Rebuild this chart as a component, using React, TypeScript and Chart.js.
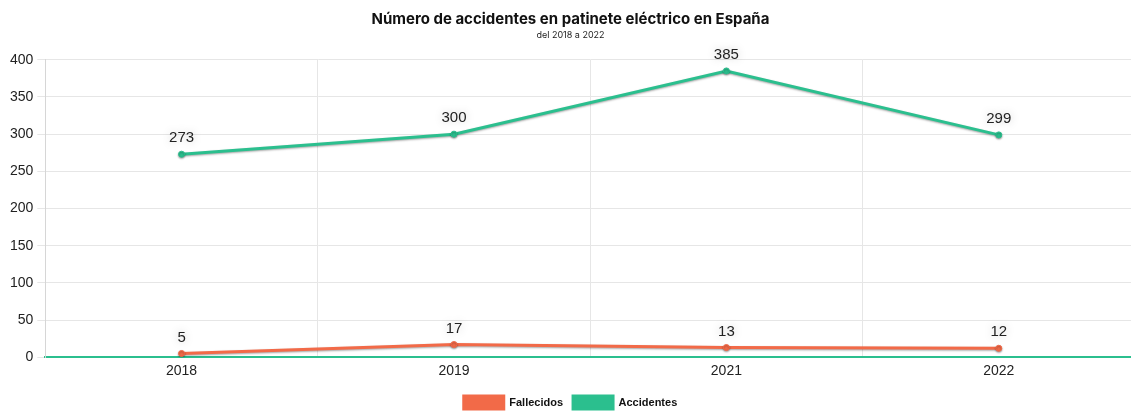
import React, { useEffect, useRef } from "react";
import { Chart, registerables } from "chart.js";

Chart.register(...registerables);

const categories = ["2018", "2019", "2021", "2022"];
const fallecidos = [5, 17, 13, 12];
const accidentes = [273, 300, 385, 299];
const titleText = "Número de accidentes en patinete eléctrico en España";
const subtitleText = "del 2018 a 2022";

const ORANGE = "#F26A48";
const GREEN = "#2BBF8E";

const shadowPlugin = {
  id: "lineShadow",
  beforeDatasetDraw(chart: any) {
    const ctx = chart.ctx;
    ctx.save();
    ctx.shadowColor = "rgba(0,0,0,0.35)";
    ctx.shadowBlur = 2;
    ctx.shadowOffsetY = 1;
  },
  afterDatasetDraw(chart: any) {
    chart.ctx.restore();
  },
};

const labelPlugin = {
  id: "valueLabels",
  afterDatasetsDraw(chart: any) {
    const ctx = chart.ctx;
    chart.data.datasets.forEach((ds: any, i: number) => {
      const meta = chart.getDatasetMeta(i);
      meta.data.forEach((pt: any, j: number) => {
        ctx.save();
        ctx.font = "15px 'Liberation Sans', Arial, sans-serif";
        ctx.textAlign = "center";
        ctx.textBaseline = "middle";
        ctx.shadowColor = "rgba(0,0,0,0.25)";
        ctx.shadowBlur = 8;
        ctx.fillStyle = "#222";
        ctx.fillText(String(ds.data[j]), pt.x, pt.y - 16);
        ctx.restore();
      });
    });
  },
};

export default function App() {
  const ref = useRef<HTMLCanvasElement>(null);
  useEffect(() => {
    document.body.style.margin = "0";
    document.body.style.overflow = "hidden";
    const chart = new Chart(ref.current!, {
      type: "line",
      data: {
        labels: categories,
        datasets: [
          {
            label: "Fallecidos",
            data: fallecidos,
            borderColor: ORANGE,
            backgroundColor: ORANGE,
            pointBackgroundColor: ORANGE,
            borderWidth: 3,
            pointRadius: 3,
            pointBorderWidth: 1,
            tension: 0,
          },
          {
            label: "Accidentes",
            data: accidentes,
            borderColor: GREEN,
            backgroundColor: GREEN,
            pointBackgroundColor: GREEN,
            borderWidth: 3,
            pointRadius: 3,
            pointBorderWidth: 1,
            tension: 0,
          },
        ],
      },
      options: {
        animation: false,
        responsive: false,
        layout: { padding: { right: 13, left: 6, top: 0, bottom: -2 } },
        plugins: {
          title: {
            display: true,
            text: titleText,
            color: "#111",
            font: { family: "Inter, sans-serif", size: 15, weight: "bold" },
            padding: { top: 10, bottom: 0 },
          },
          subtitle: {
            display: true,
            text: subtitleText,
            color: "#222",
            font: { family: "Inter, sans-serif", size: 9 },
            padding: { top: 2, bottom: 19 },
          },
          legend: {
            position: "bottom",
            labels: {
              boxWidth: 40,
              boxHeight: 13,
              color: "#111",
              font: { family: "'Liberation Sans', Arial, sans-serif", size: 11, weight: "bold" },
              padding: 10,
            },
          },
          tooltip: { enabled: false },
        },
        scales: {
          x: {
            offset: true,
            grid: { offset: true, color: "#e6e6e6", drawTicks: false },
            border: { color: GREEN, width: 2 },
            ticks: {
              color: "#222",
              padding: 6,
              font: { family: "'Liberation Sans', Arial, sans-serif", size: 14 },
            },
          },
          y: {
            min: 0,
            max: 400,
            ticks: {
              stepSize: 50,
              color: "#222",
              padding: 4,
              font: { family: "'Liberation Sans', Arial, sans-serif", size: 14 },
            },
            grid: { color: "#e6e6e6", tickLength: 8 },
            border: { color: "#d6d6d6" },
          },
        },
      },
      plugins: [shadowPlugin, labelPlugin],
    } as any);
    return () => chart.destroy();
  }, []);
  return <canvas ref={ref} width={1148} height={417} style={{ display: "block" }} />;
}
